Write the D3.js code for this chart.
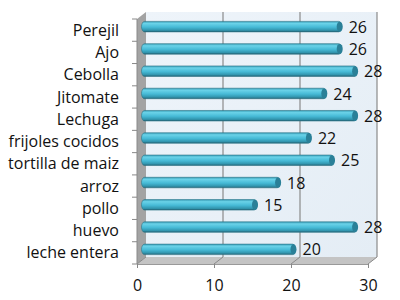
<!DOCTYPE html>
<html>
<head>
<meta charset="utf-8">
<script src="https://cdn.jsdelivr.net/npm/d3@7"></script>
<style>
  body { margin: 0; background: #fff; }
  svg { display: block; font-family: "Open Sans", sans-serif; }
</style>
</head>
<body>
<div id="chart"></div>
<script>
const categories = ["Perejil", "Ajo", "Cebolla", "Jitomate", "Lechuga", "frijoles cocidos",
  "tortilla de maiz", "arroz", "pollo", "huevo", "leche entera"];
const values = [26, 26, 28, 24, 28, 22, 25, 18, 15, 28, 20];
const xTicks = [0, 10, 20, 30];

const width = 400, height = 300;
// 3d depth offset of the back wall
const dx = 9, dy = -7;

const svg = d3.select("#chart").append("svg")
  .attr("width", width).attr("height", height);

const defs = svg.append("defs");
const barGrad = defs.append("linearGradient").attr("id", "barGrad")
  .attr("x1", 0).attr("y1", 0).attr("x2", 0).attr("y2", 1);
barGrad.append("stop").attr("offset", "0%").attr("stop-color", "#3a9fb8");
barGrad.append("stop").attr("offset", "20%").attr("stop-color", "#6ad2e8");
barGrad.append("stop").attr("offset", "55%").attr("stop-color", "#46bad6");
barGrad.append("stop").attr("offset", "85%").attr("stop-color", "#3194ad");
barGrad.append("stop").attr("offset", "100%").attr("stop-color", "#245f70");

const wallGrad = defs.append("linearGradient").attr("id", "wallGrad")
  .attr("x1", 0).attr("y1", 0).attr("x2", 1).attr("y2", 1);
wallGrad.append("stop").attr("offset", "0%").attr("stop-color", "#eef4fa");
wallGrad.append("stop").attr("offset", "100%").attr("stop-color", "#e4edf5");

const x = d3.scaleLinear().domain([0, 30]).range([137, 368]);
const y = d3.scaleBand().domain(categories).range([19, 264]);

const x0 = x(0), x1 = x(30), yTop = y.range()[0], yBot = y.range()[1];

// back wall
svg.append("rect")
  .attr("x", x0 + dx).attr("y", yTop + dy)
  .attr("width", x1 - x0).attr("height", yBot - yTop)
  .attr("fill", "url(#wallGrad)");

// left side wall
svg.append("polygon")
  .attr("points", [[x0, yTop], [x0 + dx, yTop + dy], [x0 + dx, yBot + dy], [x0, yBot]].join(" "))
  .attr("fill", "#a3a3a3");

// floor
svg.append("polygon")
  .attr("points", [[x0, yBot], [x0 + dx, yBot + dy], [x1 + dx, yBot + dy], [x1, yBot]].join(" "))
  .attr("fill", "#c4c4c4");

// gridlines on back wall and floor
const grid = svg.append("g");
grid.selectAll("line.back").data(xTicks.slice(1)).join("line")
  .attr("class", "back")
  .attr("x1", d => x(d) + dx).attr("x2", d => x(d) + dx)
  .attr("y1", yTop + dy).attr("y2", yBot + dy)
  .attr("stroke", "#8a8a8a").attr("stroke-width", 1.2);
grid.selectAll("line.floor").data(xTicks).join("line")
  .attr("class", "floor")
  .attr("x1", d => x(d)).attr("x2", d => x(d) + dx)
  .attr("y1", yBot).attr("y2", yBot + dy)
  .attr("stroke", "#8a8a8a").attr("stroke-width", 1);

// bottom axis
const xAxis = svg.append("g")
  .attr("transform", `translate(0,${yBot})`)
  .call(d3.axisBottom(x).tickValues(xTicks).tickSize(4).tickPadding(12));
xAxis.select(".domain").attr("stroke", "#999");
xAxis.selectAll(".tick line").attr("stroke", "#888");
xAxis.selectAll(".tick text")
  .attr("fill", "#111").style("font-size", "16px")
  .style("font-family", "'Open Sans', sans-serif");

// left axis: ticks between categories
const yBounds = categories.map(c => y(c)).concat([yBot]);
svg.append("line")
  .attr("x1", x0).attr("x2", x0).attr("y1", yTop).attr("y2", yBot)
  .attr("stroke", "#8a8a8a");
svg.selectAll("line.ytick").data(yBounds).join("line")
  .attr("class", "ytick")
  .attr("x1", x0 - 5).attr("x2", x0)
  .attr("y1", d => d).attr("y2", d => d)
  .attr("stroke", "#888");

// category labels
svg.selectAll("text.cat").data(categories).join("text")
  .attr("class", "cat")
  .attr("x", 119)
  .attr("y", d => y(d) + y.bandwidth() / 2)
  .attr("dy", "0.35em")
  .attr("text-anchor", "end")
  .attr("fill", "#111").style("font-size", "16px")
  .text(d => d);

// bars as cylinders at mid depth
const barH = 10.5;
const bars = svg.append("g")
  .attr("transform", `translate(${dx / 2},${dy / 2})`);
const rows = categories.map((c, i) => ({ c, v: values[i] }));
bars.selectAll("rect.bar").data(rows).join("rect")
  .attr("class", "bar")
  .attr("x", x(0))
  .attr("y", d => y(d.c) + y.bandwidth() / 2 - barH / 2)
  .attr("width", d => x(d.v) - x(0))
  .attr("height", barH)
  .attr("rx", 3).attr("ry", barH / 2)
  .attr("fill", "url(#barGrad)")
  .attr("stroke", "#2a7487").attr("stroke-width", 0.6);
bars.selectAll("ellipse.cap").data(rows).join("ellipse")
  .attr("class", "cap")
  .attr("cx", d => x(d.v) - 2)
  .attr("cy", d => y(d.c) + y.bandwidth() / 2)
  .attr("rx", 3).attr("ry", barH / 2)
  .attr("fill", "#2a8098");

// value labels
bars.selectAll("text.val").data(rows).join("text")
  .attr("class", "val")
  .attr("x", d => x(d.v) + 7)
  .attr("y", d => y(d.c) + y.bandwidth() / 2)
  .attr("dy", "0.38em")
  .attr("fill", "#111").style("font-size", "16px")
  .text(d => d.v);
</script>
</body>
</html>
